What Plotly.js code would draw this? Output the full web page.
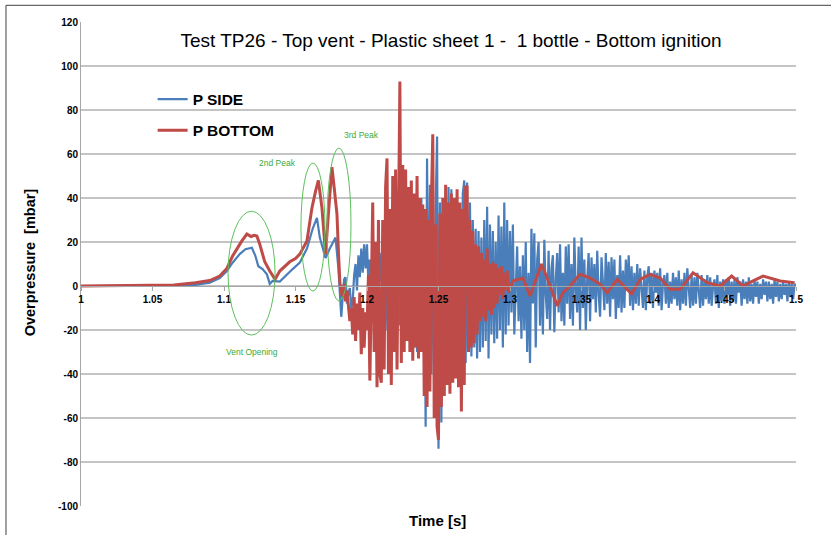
<!DOCTYPE html>
<html>
<head>
<meta charset="utf-8">
<script src="https://cdn.plot.ly/plotly-3.0.1.min.js"></script>
<style>html,body{margin:0;padding:0;background:#fff;}#chart{width:831px;height:535px;}</style>
</head>
<body>
<div id="chart"></div>
<script>
// ---- Data ----
const seriesNames = ["P SIDE", "P BOTTOM"];

// P SIDE: slow part (explicit time stamps)
const sideTime = [1.000, 1.050, 1.070, 1.080, 1.090, 1.097, 1.102, 1.106, 1.111, 1.115, 1.1195, 1.122, 1.124, 1.127, 1.130, 1.132, 1.134, 1.139, 1.144, 1.148, 1.153, 1.158, 1.162, 1.165, 1.167, 1.171, 1.174, 1.178];
const sideValue = [0, 0, 0.2, 0.5, 1.5, 3.6, 6.8, 10.6, 14.5, 16.7, 17.4, 13.6, 9, 7.7, 5.3, 1, 2.3, 2, 5.3, 7.7, 10.6, 17, 26, 31, 22, 12.7, 17, 22];
// P SIDE: sampled part, one sample per millisecond from 1.180 s
const sideSampleStart = 1.180;
const sideSampleStep = 0.001;
const sideSamples = [
  8, -2, -14, -5, 3, 4, -8, -3, -1, -10,
  -7, 5, 10, -2, 14, 4, 17, 6, 19, 8,
  19, 1, 12, -4, 15, 0, 8, -5, 10, 2,
  15, -18, 20, -20, 12, -25, 18, -15, 22, -20,
  20, -22, 25, -18, 30, -25, 22, -20, 28, -24,
  30, -25, 35, -28, 32, -30, 38, -26, 40, -30,
  30, -64, 58, -38, 46, -40, 42, -48, 35, 68,
  -74, 38, -62, 30, -50, 36, -42, 45, -40, 44,
  -38, 40, -35, 30, -40, 35, -30, 42, 48, -35,
  47, -30, 38, -32, 30, -28, 26, -33, 25, -30,
  22, -28, 30, -25, 36, -33, 28, -22, 25, -26,
  20, -24, 32, -20, 27, -28, 38, -22, 30, -18,
  25, -12, 28, -22, 4, 18, -16, 9, -24, 14,
  -20, 20, -30, 6, -35, 26, -8, 24, -28, 12,
  20, -18, 9, -22, 21, -4, -15, 16, -20, 8,
  14, -21, 3, 15, -12, 19, -16, 6, -18, 18,
  -8, 19, -15, 10, -18, 22, -2, -12, 18, -20,
  22, -10, 12, -20, 3, 15, -16, 13, -6, 10,
  -12, 16, -4, -14, 13, 2, -11, 15, -8, 11,
  -14, 13, -6, 12, -15, 5, -10, 14, -12, 7,
  -10, 12, -2, 14, -9, 9, -11, 6, -8, 10,
  -9, 8, -4, -10, 7, -11, 4, 9, -8, 6,
  -10, 7, -3, 6, -9, 8, -11, 1, 5, -8,
  6, -10, 2, -8, 6, -6, 4, -9, 7, -11,
  3, -8, 6, -9, 8, -3, -10, 5, -9, 4,
  -8, 6, -4, -10, 5, -9, 3, -6, 5, -8,
  4, -9, 0, 3, -8, 5, -10, 2, -7, 3,
  -8, 3, -4, 4, -9, 2, -7, 3, -8, 4,
  -3, 2, -9, 3, -6, 2, -8, 4, -7, 1,
  -8, 3, -5, 2, -8, 1, -6, 3, -4, 2,
  -7, 2, -6, 1, -8, 3, -5, 2, -7, 1,
  -6, 2, -4, 1, -7, 2, -5, 1, -6, 1, 0
];

// P BOTTOM: slow part
const bottomTime = [1.000, 1.050, 1.065, 1.080, 1.090, 1.097, 1.102, 1.106, 1.109, 1.1125, 1.116, 1.119, 1.121, 1.123, 1.125, 1.1285, 1.132, 1.1357, 1.139, 1.142, 1.146, 1.150, 1.153, 1.158, 1.1615, 1.164, 1.166, 1.1685, 1.171, 1.173, 1.1755, 1.177, 1.179];
const bottomValue = [0, 0.2, 0.5, 1.5, 2.5, 4.5, 8, 13.6, 17, 20.5, 23.6, 22.5, 23, 22.7, 19, 11, 6.8, 3, 6.8, 8.5, 11, 12.5, 14.5, 20.5, 35.5, 43, 48, 35.5, 14.5, 32.7, 54, 45, 32.7];
// P BOTTOM: sampled part, one sample per millisecond from 1.180 s
const bottomSampleStart = 1.180;
const bottomSampleStep = 0.001;
const bottomSamples = [
  16, 2, -3, -5, 1, -7, -2, -9, -16, -10,
  -22, -5, -25, -8, -20, -3, -31, -10, -28, -12,
  -20, 5, -43, -4, 38, -30, 20, -46, 30, -40,
  -44, 30, -38, 45, 58, -40, 35, -45, 50, -30,
  53, -38, 40, 93, -35, 55, -30, 53, -25, 45,
  -30, 48, -34, 42, -28, 50, -33, 40, -30, 37,
  -50, 35, -55, 30, -48, 37, 69, -60, 28, -64,
  -70, 33, -55, 40, -50, 46, -45, 38, -49, 42,
  -44, 40, -42, 44, -46, 38, -57, 35, -45, 45,
  45, -30, 30, -28, 25, -26, 19, -22, 18, -16,
  15, -14, 12, -16, 17, -11, 10, -13, 11, -10,
  10, -8, 8, -4, 9, -6, 6, -2, 7, -3
];
// P BOTTOM: decay tail
const bottomTailTime = [1.302, 1.309, 1.314, 1.322, 1.326, 1.333, 1.337, 1.342, 1.349, 1.356, 1.363, 1.368, 1.375, 1.385, 1.391, 1.398, 1.405, 1.412, 1.419, 1.428, 1.438, 1.447, 1.455, 1.463, 1.470, 1.477, 1.489, 1.499];
const bottomTailValue = [2.3, 3.6, -4.5, 10, 3.6, -9, -3, 0, 5.3, 3.6, 0.8, -3, 3, -3.6, 3, 5.3, 3.6, -1.5, -1.5, 6, 1.5, 0, 4.5, 0, 2.3, 4.5, 2.3, 1.5];

const xTickVals = [1, 1.05, 1.1, 1.15, 1.2, 1.25, 1.3, 1.35, 1.4, 1.45, 1.5];
const xTickText = ["1", "1.05", "1.1", "1.15", "1.2", "1.25", "1.3", "1.35", "1.4", "1.45", "1.5"];
const yTickVals = [-100, -80, -60, -40, -20, 0, 20, 40, 60, 80, 100, 120];
const yTickText = ["-100", "-80", "-60", "-40", "-20", "0", "20", "40", "60", "80", "100", "120"];

const noteTexts = ["Vent Opening", "2nd Peak", "3rd Peak"];

// ---- Build traces ----
function sampleTimes(start, step, n) {
  const t = [];
  for (let i = 0; i < n; i++) t.push(+(start + i * step).toFixed(4));
  return t;
}
const sideX = sideTime.concat(sampleTimes(sideSampleStart, sideSampleStep, sideSamples.length));
const sideY = sideValue.concat(sideSamples);
const bottomX = bottomTime.concat(sampleTimes(bottomSampleStart, bottomSampleStep, bottomSamples.length), bottomTailTime);
const bottomY = bottomValue.concat(bottomSamples, bottomTailValue);

const blue = "#4a7ebb";
const red = "#be4b48";
const green = "#5cc05c";
const FAM = "Liberation Sans, Arial, sans-serif";
const tickFont = {family: FAM, size: 10, color: "#000", weight: "bold"};

const traces = [
  {x: sideX, y: sideY, type: "scatter", mode: "lines", name: seriesNames[0], legendgroup: "a",
   line: {color: blue, width: 2.2}},
  {x: bottomX, y: bottomY, type: "scatter", mode: "lines", name: seriesNames[1], legendgroup: "b",
   line: {color: red, width: 3}}
];

function note(text, px, py, size, extra) {
  return Object.assign({text: text, xref: "paper", yref: "paper", x: (px - 81) / 715, y: (505.7 - py) / 484,
    xanchor: "center", yanchor: "middle", showarrow: false, font: size}, extra || {});
}

const layout = {
  width: 831, height: 535,
  margin: {l: 81, r: 35, t: 22, b: 29},
  paper_bgcolor: "#fff", plot_bgcolor: "#fff",
  showlegend: true,
  legend: {x: 0.1002, y: 0.875, xanchor: "left", yanchor: "top", bgcolor: "rgba(0,0,0,0)",
           tracegroupgap: 8, font: {family: FAM, size: 15.5, color: "#000", weight: "bold"}},
  title: {text: "Test TP26 - Top vent - Plastic sheet 1 -  1 bottle - Bottom ignition",
          xref: "paper", yref: "paper", x: 0.5175, y: 0.962, xanchor: "center", yanchor: "middle",
          font: {family: FAM, size: 19, color: "#000"}},
  xaxis: {range: [1, 1.5], tickvals: xTickVals, ticktext: xTickText, anchor: "free", position: 0.4545,
          showgrid: false, zeroline: false, showline: true, linecolor: "#a6a6a6", linewidth: 1,
          ticks: "outside", ticklen: 4, tickcolor: "#a6a6a6", tickfont: tickFont},
  yaxis: {range: [-100, 120], tickvals: yTickVals, ticktext: yTickText, showgrid: true, gridcolor: "#c4c4c4",
          gridwidth: 1.5, zeroline: false, showline: true, linecolor: "#a6a6a6", linewidth: 1,
          ticks: "", tickfont: tickFont},
  shapes: [
    {type: "circle", xref: "x", yref: "y", x0: 1.1028, x1: 1.1357, y0: -22.3, y1: 34, line: {color: green, width: 1}},
    {type: "circle", xref: "x", yref: "y", x0: 1.1538, x1: 1.1706, y0: -2.3, y1: 55.9, line: {color: green, width: 1}},
    {type: "circle", xref: "x", yref: "y", x0: 1.172, x1: 1.1888, y0: -6.8, y1: 62.7, line: {color: green, width: 1}},
    {type: "line", xref: "paper", yref: "paper", x0: -0.1049, x1: -0.1049, y0: -0.1, y1: 1.0345, line: {color: "#404040", width: 1}},
    {type: "line", xref: "paper", yref: "paper", x0: -0.1049, x1: 1.2, y0: 1.0345, y1: 1.0345, line: {color: "#404040", width: 1}}
  ],
  annotations: [
    note(noteTexts[0], 252, 352, {family: FAM, size: 8.5, color: "#3aaa3a"}),
    note(noteTexts[1], 277, 163, {family: FAM, size: 8.5, color: "#3aaa3a"}),
    note(noteTexts[2], 361, 135, {family: FAM, size: 8.5, color: "#3aaa3a"}),
    note("Time [s]", 437, 520, {family: FAM, size: 15, color: "#000", weight: "bold"}),
    note("Overpressure  [mbar]", 30, 262, {family: FAM, size: 14.5, color: "#000", weight: "bold"}, {textangle: -90})
  ]
};

Plotly.newPlot("chart", traces, layout, {displayModeBar: false, staticPlot: true});
</script>
</body>
</html>
